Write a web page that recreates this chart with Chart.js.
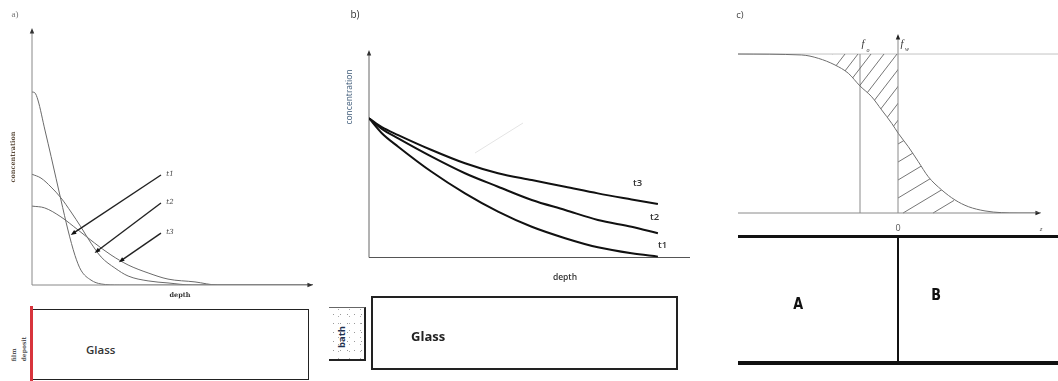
<!DOCTYPE html>
<html>
<head>
<meta charset="utf-8">
<script src="https://cdn.jsdelivr.net/npm/chart.js@4/dist/chart.umd.min.js"></script>
<style>
  html, body { margin: 0; padding: 0; background: #fff; }
  body { position: relative; width: 1058px; height: 381px; overflow: hidden; font-family: "Open Sans", sans-serif; }
  canvas { position: absolute; }
  .box { position: absolute; box-sizing: border-box; }
  .lbl { position: absolute; white-space: nowrap; line-height: 1; }
</style>
</head>
<body>
<canvas id="chartA" width="330" height="300" style="left:0;top:0"></canvas>
<canvas id="chartB" width="380" height="300" style="left:330px;top:0"></canvas>
<canvas id="chartC" width="338" height="240" style="left:720px;top:0"></canvas>

<!-- a) film deposit + glass slab -->
<div class="box" style="left:30px;top:306px;width:3px;height:75px;background:#d8343c"></div>
<div class="box" style="left:33px;top:309px;width:276px;height:71px;border:1.5px solid #222;border-left:none"></div>
<div class="lbl" style="left:86px;top:344px;font-size:11.5px;font-weight:600;color:#333">Glass</div>
<div class="lbl" style="left:13px;top:355px;transform:translate(-50%,-50%) rotate(-90deg);font:bold 6px 'DejaVu Serif',serif;color:#555">film</div>
<div class="lbl" style="left:23px;top:349px;transform:translate(-50%,-50%) rotate(-90deg);font:bold 6px 'DejaVu Serif',serif;color:#555">deposit</div>

<!-- b) bath + glass slab -->
<div class="box" style="left:329px;top:307px;width:37px;height:54px;border-top:1px solid #666;border-right:2px solid #222;border-bottom:2px solid #222;
  background-image:radial-gradient(circle,#999 0.7px,transparent 1px),radial-gradient(circle,#aaa 0.6px,transparent 0.9px);
  background-size:7px 9px,11px 7px;background-position:1px 2px,4px 5px"></div>
<div class="lbl" style="left:342px;top:337px;transform:translate(-50%,-50%) rotate(-90deg);font-size:9.5px;font-weight:700;color:#1f3050">bath</div>
<div class="box" style="left:371px;top:296px;width:307px;height:74px;border:2px solid #222"></div>
<div class="lbl" style="left:411px;top:330px;font-size:13px;font-weight:700;color:#222">Glass</div>

<!-- c) interface between phases A and B -->
<div class="box" style="left:738px;top:235px;width:320px;height:3px;background:#111"></div>
<div class="box" style="left:738px;top:361px;width:320px;height:4px;background:#111"></div>
<div class="box" style="left:897px;top:236px;width:2px;height:128px;background:#111"></div>
<div class="lbl" style="left:792px;top:294px;font:bold 16px 'Liberation Sans Narrow','DejaVu Sans',sans-serif;color:#111;transform:scaleX(0.8)">A</div>
<div class="lbl" style="left:930px;top:285px;font:bold 16px 'Liberation Sans Narrow','DejaVu Sans',sans-serif;color:#111;transform:scaleX(0.8)">B</div>

<script>
// ---- a) diffusion from a thin deposited film: concentration vs depth at t1 < t2 < t3
const aDepthT1 = [0, 1, 2.1, 4.6, 6.8, 10.3, 12.8, 15.3, 17.4, 21.0, 24.6, 31, 100];
const aConcT1  = [75.1, 74.8, 72.0, 60.3, 50.0, 33.1, 21.4, 11.5, 5.8, 1.9, 0.4, 0, 0];
const aDepthT2 = [0, 3.2, 6.8, 10.3, 13.9, 17.4, 21.0, 24.6, 29.5, 34.2, 41.3, 48.4, 57, 100];
const aConcT2  = [43.1, 41.6, 38.1, 33.9, 28.4, 22.6, 16.3, 10.9, 6.6, 3.5, 1.6, 0.8, 0, 0];
const aDepthT3 = [0, 4.5, 10.3, 16.4, 22.3, 28.1, 34.2, 41.3, 48.4, 58, 66, 100];
const aConcT3  = [30.7, 30.0, 26.5, 21.4, 16.3, 11.7, 7.8, 4.7, 2.3, 1.2, 0, 0];
const aLabels  = ['t1', 't2', 't3'];
// arrow annotations (tail at label, head on the curve), in depth/concentration units
const aArrowTail = [[45.9, 42.8], [45.9, 31.9], [45.9, 20.2]];
const aArrowHead = [[13.8, 19.5], [22.3, 12.5], [30.9, 8.9]];

// ---- b) diffusion from an infinite bath: concentration vs depth
const bDepth   = [0, 4.0, 9.1, 19.5, 29.9, 40.2, 50.7, 61.1, 71.3, 81.8, 90.0];
const bConcT1  = [67.1, 59.9, 53.4, 41.3, 30.9, 22.1, 14.8, 9.3, 4.9, 2.0, 0.4];
const bConcT2  = [67.1, 62.0, 57.4, 48.6, 40.6, 34.1, 27.7, 22.9, 18.1, 14.8, 11.7];
const bConcT3  = [67.1, 62.8, 59.0, 51.8, 45.4, 40.6, 37.3, 34.1, 30.9, 28.0, 25.8];
const bLabels  = ['t1', 't2', 't3'];

// ---- c) concentration profile across the A|B interface
const cZ = [-16, -9.63, -7.97, -6.3, -4.97, -3.8, -2.63, -1.63, -0.63, 0.03, 1.03, 2.03, 3.03, 4.37, 5.7, 7.03, 8.7, 10.37, 12, 14.3];
const cF = [1.0, 0.994, 0.973, 0.931, 0.879, 0.799, 0.731, 0.648, 0.564, 0.501, 0.417, 0.323, 0.228, 0.145, 0.082, 0.040, 0.013, 0.002, 0, 0];
const cZ0 = -3.8;              // position of the f0 marker line
const cHatchLeft  = [-6.6, 0]; // hatched band above the profile
const cHatchRight = [0, 5.6];  // hatched band below the profile

const pts = (xs, ys) => xs.map((x, i) => ({ x, y: ys[i] }));

function txt(ctx, s, x, y, font, color, rot, align) {
  ctx.save();
  ctx.translate(x, y);
  if (rot) ctx.rotate(rot);
  ctx.font = font;
  ctx.fillStyle = color;
  ctx.textAlign = align || 'center';
  ctx.textBaseline = 'middle';
  ctx.fillText(s, 0, 0);
  ctx.restore();
}
function seg(ctx, x1, y1, x2, y2, color, lw) {
  ctx.save();
  ctx.strokeStyle = color; ctx.lineWidth = lw;
  ctx.beginPath(); ctx.moveTo(x1, y1); ctx.lineTo(x2, y2); ctx.stroke();
  ctx.restore();
}
function arrow(ctx, x1, y1, x2, y2, head, color, lw, headColor) {
  const a = Math.atan2(y2 - y1, x2 - x1);
  ctx.save();
  ctx.strokeStyle = color; ctx.lineWidth = lw;
  ctx.beginPath(); ctx.moveTo(x1, y1);
  ctx.lineTo(x2 - Math.cos(a) * head * 0.6, y2 - Math.sin(a) * head * 0.6);
  ctx.stroke();
  ctx.fillStyle = headColor || color;
  ctx.beginPath(); ctx.moveTo(x2, y2);
  ctx.lineTo(x2 - head * Math.cos(a - 0.38), y2 - head * Math.sin(a - 0.38));
  ctx.lineTo(x2 - head * Math.cos(a + 0.38), y2 - head * Math.sin(a + 0.38));
  ctx.closePath(); ctx.fill();
  ctx.restore();
}

const baseOpts = (padding, xmin, xmax, ymin, ymax) => ({
  responsive: false,
  animation: false,
  events: [],
  layout: { padding },
  plugins: { legend: { display: false }, tooltip: { enabled: false } },
  elements: { point: { radius: 0 } },
  scales: {
    x: { type: 'linear', display: false, min: xmin, max: xmax },
    y: { type: 'linear', display: false, min: ymin, max: ymax }
  }
});
const curve = (data, color, width) => ({
  data, borderColor: color, borderWidth: width, fill: false,
  cubicInterpolationMode: 'monotone', pointRadius: 0
});

// ---------- chart a ----------
const decorA = {
  id: 'decorA',
  afterDatasetsDraw(chart) {
    const { ctx, chartArea: ca, scales: { x, y } } = chart;
    arrow(ctx, ca.left, ca.bottom, ca.left, ca.top, 6, '#888', 1, '#333');
    arrow(ctx, ca.left, ca.bottom, ca.right, ca.bottom, 6, '#888', 1, '#333');
    aArrowTail.forEach((t, i) => {
      const h = aArrowHead[i];
      arrow(ctx, x.getPixelForValue(t[0]), y.getPixelForValue(t[1]),
        x.getPixelForValue(h[0]), y.getPixelForValue(h[1]), 6, '#222', 1.4, '#111');
      txt(ctx, aLabels[i], x.getPixelForValue(t[0]) + 9, y.getPixelForValue(t[1]) - 1,
        'italic 7px "DejaVu Serif", serif', '#444');
    });
    txt(ctx, 'a)', 15, 15, '9px "Liberation Serif", serif', '#777');
    txt(ctx, 'concentration', 13, 157, 'bold 6.5px "DejaVu Serif", serif', '#5a4a3a', -Math.PI / 2);
    txt(ctx, 'depth', 180, 295, 'bold 6.5px "DejaVu Serif", serif', '#333');
  }
};
new Chart(document.getElementById('chartA'), {
  type: 'line',
  data: {
    datasets: [
      curve(pts(aDepthT1, aConcT1), '#6a6a6a', 1),
      curve(pts(aDepthT2, aConcT2), '#6a6a6a', 1),
      curve(pts(aDepthT3, aConcT3), '#6a6a6a', 1)
    ]
  },
  options: baseOpts({ left: 32, right: 17, top: 28, bottom: 15 }, 0, 100, 0, 100),
  plugins: [decorA]
});

// ---------- chart b ----------
const decorB = {
  id: 'decorB',
  beforeDatasetsDraw(chart) {
    const { ctx, chartArea: ca } = chart;
    seg(ctx, 145, 153, 193, 123, '#e4e4e4', 1);
    arrow(ctx, ca.left, ca.bottom, ca.left, ca.top, 6, '#666', 1, '#333');
    seg(ctx, ca.left, ca.bottom, ca.right, ca.bottom, '#555', 1.2);
  },
  afterDatasetsDraw(chart) {
    const { ctx, scales: { x, y } } = chart;
    const lastX = bDepth[bDepth.length - 1];
    const ends = [bConcT1, bConcT2, bConcT3].map(s => s[s.length - 1]);
    const dx = [0, -8, -25], dy = [-11, -16, -21];
    ends.forEach((v, i) => {
      txt(ctx, bLabels[i], x.getPixelForValue(lastX) + dx[i], y.getPixelForValue(v) + dy[i],
        '600 9.5px "Open Sans", sans-serif', '#333', 0, 'left');
    });
    txt(ctx, 'b)', 25, 15, '10px "Open Sans", sans-serif', '#333');
    txt(ctx, 'concentration', 20, 97, '8.5px "Open Sans", sans-serif', '#3d5a78', -Math.PI / 2);
    txt(ctx, 'depth', 235, 278, '600 8.5px "Open Sans", sans-serif', '#333');
  }
};
new Chart(document.getElementById('chartB'), {
  type: 'line',
  data: {
    datasets: [
      curve(pts(bDepth, bConcT1), '#111', 2),
      curve(pts(bDepth, bConcT2), '#111', 2),
      curve(pts(bDepth, bConcT3), '#111', 2)
    ]
  },
  options: baseOpts({ left: 39, right: 20, top: 50, bottom: 42.5 }, 0, 100, 0, 100),
  plugins: [decorB]
});

// ---------- chart c ----------
function hatch(ctx, region, left, right, slope, step, top, bottom) {
  ctx.save();
  ctx.beginPath();
  ctx.rect(left, top - 1, right - left, bottom - top + 2);
  ctx.clip();
  ctx.beginPath();
  region();
  ctx.clip();
  ctx.strokeStyle = '#666'; ctx.lineWidth = 0.9;
  const h = bottom - top;
  for (let c = left - h / slope - step; c < right + step; c += step) {
    ctx.beginPath();
    ctx.moveTo(c, bottom);
    ctx.lineTo(c + h / slope, top);
    ctx.stroke();
  }
  ctx.restore();
}
const decorC = {
  id: 'decorC',
  beforeDatasetsDraw(chart) {
    const { ctx, chartArea: ca, scales: { x, y } } = chart;
    const top = y.getPixelForValue(1), bot = y.getPixelForValue(0);
    const ax = x.getPixelForValue(0), fx = x.getPixelForValue(cZ0);
    const meta = chart.getDatasetMeta(0);
    const line = meta.dataset;
    const first = meta.data[0];
    const last = meta.data[cZ.length - 1];
    // reference lines
    seg(ctx, ca.left, top, chart.width, top, '#c4c4c4', 1);
    seg(ctx, fx, top, fx, bot, '#8a8a8a', 1);
    // hatched bands between the profile and the plateau levels
    hatch(ctx, () => { line.path(ctx); ctx.lineTo(last.x, top - 2); ctx.lineTo(first.x, top - 2); ctx.closePath(); },
      x.getPixelForValue(cHatchLeft[0]), x.getPixelForValue(cHatchLeft[1]), 1.3, 13, top, bot);
    hatch(ctx, () => { line.path(ctx); ctx.lineTo(last.x, bot + 2); ctx.lineTo(first.x, bot + 2); ctx.closePath(); },
      x.getPixelForValue(cHatchRight[0]), x.getPixelForValue(cHatchRight[1]), 0.6, 30, top, bot);
    // axes
    arrow(ctx, ca.left, bot, ca.right, bot, 6, '#8a8a8a', 1, '#222');
    arrow(ctx, ax, bot, ax, ca.top, 6, '#8a8a8a', 1, '#222');
  },
  afterDatasetsDraw(chart) {
    const { ctx, chartArea: ca, scales: { x, y } } = chart;
    const ax = x.getPixelForValue(0), fx = x.getPixelForValue(cZ0);
    txt(ctx, 'c)', 20, 15, '9.5px "Open Sans", sans-serif', '#444');
    txt(ctx, 'f', fx + 3, 44, 'italic 10.5px "Liberation Serif", serif', '#333');
    txt(ctx, 'o', fx + 8, 50, 'italic 6px "Liberation Serif", serif', '#333');
    txt(ctx, 'f', ax + 4, 44, 'italic 10.5px "Liberation Serif", serif', '#333');
    txt(ctx, 'w', ax + 9, 49, 'italic 6px "Liberation Serif", serif', '#333');
    txt(ctx, '0', ax, y.getPixelForValue(0) + 15, '9px "Open Sans", sans-serif', '#555');
    txt(ctx, 'z', ca.right, y.getPixelForValue(0) + 16, 'italic 7px "Liberation Serif", serif', '#555');
  }
};
new Chart(document.getElementById('chartC'), {
  type: 'line',
  data: { datasets: [curve(pts(cZ, cF), '#6e6e6e', 1)] },
  options: baseOpts({ left: 18, right: 17, top: 34, bottom: 27 }, -16, 14.3, 0, 1.126),
  plugins: [decorC]
});
</script>
</body>
</html>
